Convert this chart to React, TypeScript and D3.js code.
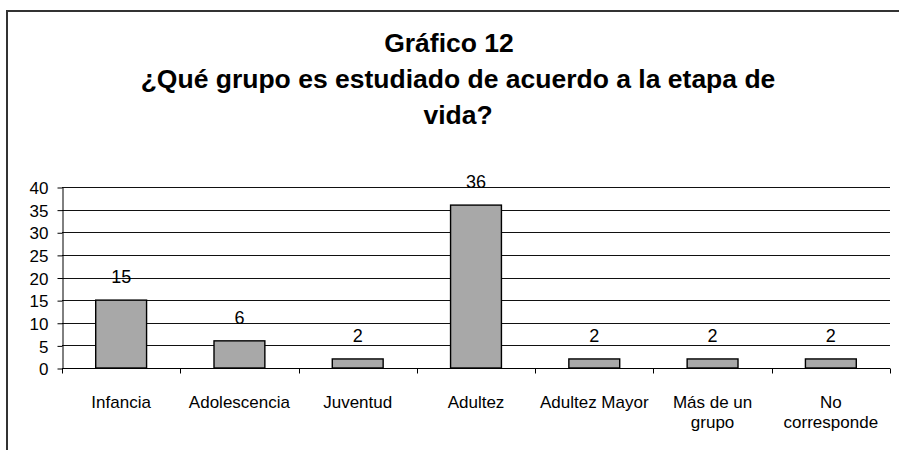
import { useEffect, useRef } from 'react'
import * as d3 from 'd3'

const categories = ['Infancia', 'Adolescencia', 'Juventud', 'Adultez', 'Adultez Mayor', 'Más de un grupo', 'No corresponde']
const categoryLines = [['Infancia'], ['Adolescencia'], ['Juventud'], ['Adultez'], ['Adultez Mayor'], ['Más de un', 'grupo'], ['No', 'corresponde']]
const values = [15, 6, 2, 36, 2, 2, 2]
const yTicks = [0, 5, 10, 15, 20, 25, 30, 35, 40]
const titleLines = ['Gráfico 12', '¿Qué grupo es estudiado de acuerdo a la etapa de', 'vida?']

const W = 899
const H = 450
const FONT = '"Liberation Sans", Arial, sans-serif'

export default function App() {
  const svgRef = useRef<SVGSVGElement>(null)

  useEffect(() => {
    if (!svgRef.current) return
    const svg = d3.select(svgRef.current)
    svg.selectAll('*').remove()

    const left = 62, right = 890, top = 187, bottom = 368

    const x = d3.scaleBand<string>().domain(categories).range([left, right]).padding(0)
    const y = d3.scaleLinear().domain([0, 40]).range([bottom, top])

    // outer frame
    svg.append('path')
      .attr('d', `M7,${H} V11 H${W}`)
      .attr('fill', 'none')
      .attr('stroke', '#333')
      .attr('stroke-width', 2)

    // title (first line sits a bit left, as in the original)
    const title = svg.append('text')
      .attr('text-anchor', 'middle')
      .attr('font-family', FONT)
      .attr('font-weight', 'bold')
      .attr('font-size', '26.5px')
      .attr('fill', '#000')
    titleLines.forEach((t, i) => {
      title.append('tspan').attr('x', i === 0 ? 449 : 458).attr('y', 52 + i * 36).text(t)
    })

    // gridlines
    svg.append('g')
      .selectAll('line')
      .data(yTicks.filter((d) => d > 0))
      .join('line')
      .attr('x1', left)
      .attr('x2', right)
      .attr('y1', (d) => Math.round(y(d)) + 0.5)
      .attr('y2', (d) => Math.round(y(d)) + 0.5)
      .attr('stroke', '#111')
      .attr('stroke-width', 1)

    // y axis
    const yAxis = svg.append('g').attr('transform', `translate(${left + 0.5},0.5)`)
      .call(d3.axisLeft(y).tickValues(yTicks).tickSize(5).tickPadding(9).tickSizeOuter(0))
    yAxis.select('.domain').attr('stroke', '#000')
    yAxis.selectAll('.tick line').attr('stroke', '#000')
    yAxis.selectAll('text')
      .attr('font-family', FONT)
      .attr('font-size', '17px')
      .attr('fill', '#000')
      .attr('dy', '0.36em')
      .attr('y', 0)

    // x axis
    const xAxisG = svg.append('g').attr('transform', `translate(0,${Math.round(bottom) + 0.5})`)
    xAxisG.append('line').attr('x1', left).attr('x2', right).attr('stroke', '#000')
    const boundaries = categories.map((c) => x(c)!).concat([right])
    xAxisG.selectAll('line.tk')
      .data(boundaries)
      .join('line')
      .attr('class', 'tk')
      .attr('x1', (d) => Math.round(d) + 0.5)
      .attr('x2', (d) => Math.round(d) + 0.5)
      .attr('y1', 0)
      .attr('y2', 5)
      .attr('stroke', '#000')

    // bars
    const bw = x.bandwidth() * 0.43
    svg.append('g')
      .selectAll('rect')
      .data(values)
      .join('rect')
      .attr('x', (d, i) => x(categories[i])! + (x.bandwidth() - bw) / 2)
      .attr('y', (d) => y(d))
      .attr('width', bw)
      .attr('height', (d) => y(0) - y(d))
      .attr('fill', '#a8a8a8')
      .attr('stroke', '#000')
      .attr('stroke-width', 1.4)

    // value labels
    svg.append('g')
      .selectAll('text')
      .data(values)
      .join('text')
      .attr('x', (d, i) => x(categories[i])! + x.bandwidth() / 2)
      .attr('y', (d) => y(d) - 17)
      .attr('text-anchor', 'middle')
      .attr('font-family', FONT)
      .attr('font-size', '18px')
      .attr('fill', '#000')
      .text((d) => d)

    // category labels
    const cat = svg.append('g')
      .selectAll('text')
      .data(categoryLines)
      .join('text')
      .attr('text-anchor', 'middle')
      .attr('font-family', FONT)
      .attr('font-size', '17px')
      .attr('fill', '#000')
    cat.each(function (lines, i) {
      const cx = x(categories[i])! + x.bandwidth() / 2
      lines.forEach((l, j) => {
        d3.select(this).append('tspan').attr('x', cx).attr('y', 408 + j * 20).text(l)
      })
    })
  }, [])

  return (
    <div style={{ position: 'fixed', left: 0, top: 0, background: '#fff' }}>
      <svg ref={svgRef} width={W} height={H} style={{ display: 'block' }} />
    </div>
  )
}
